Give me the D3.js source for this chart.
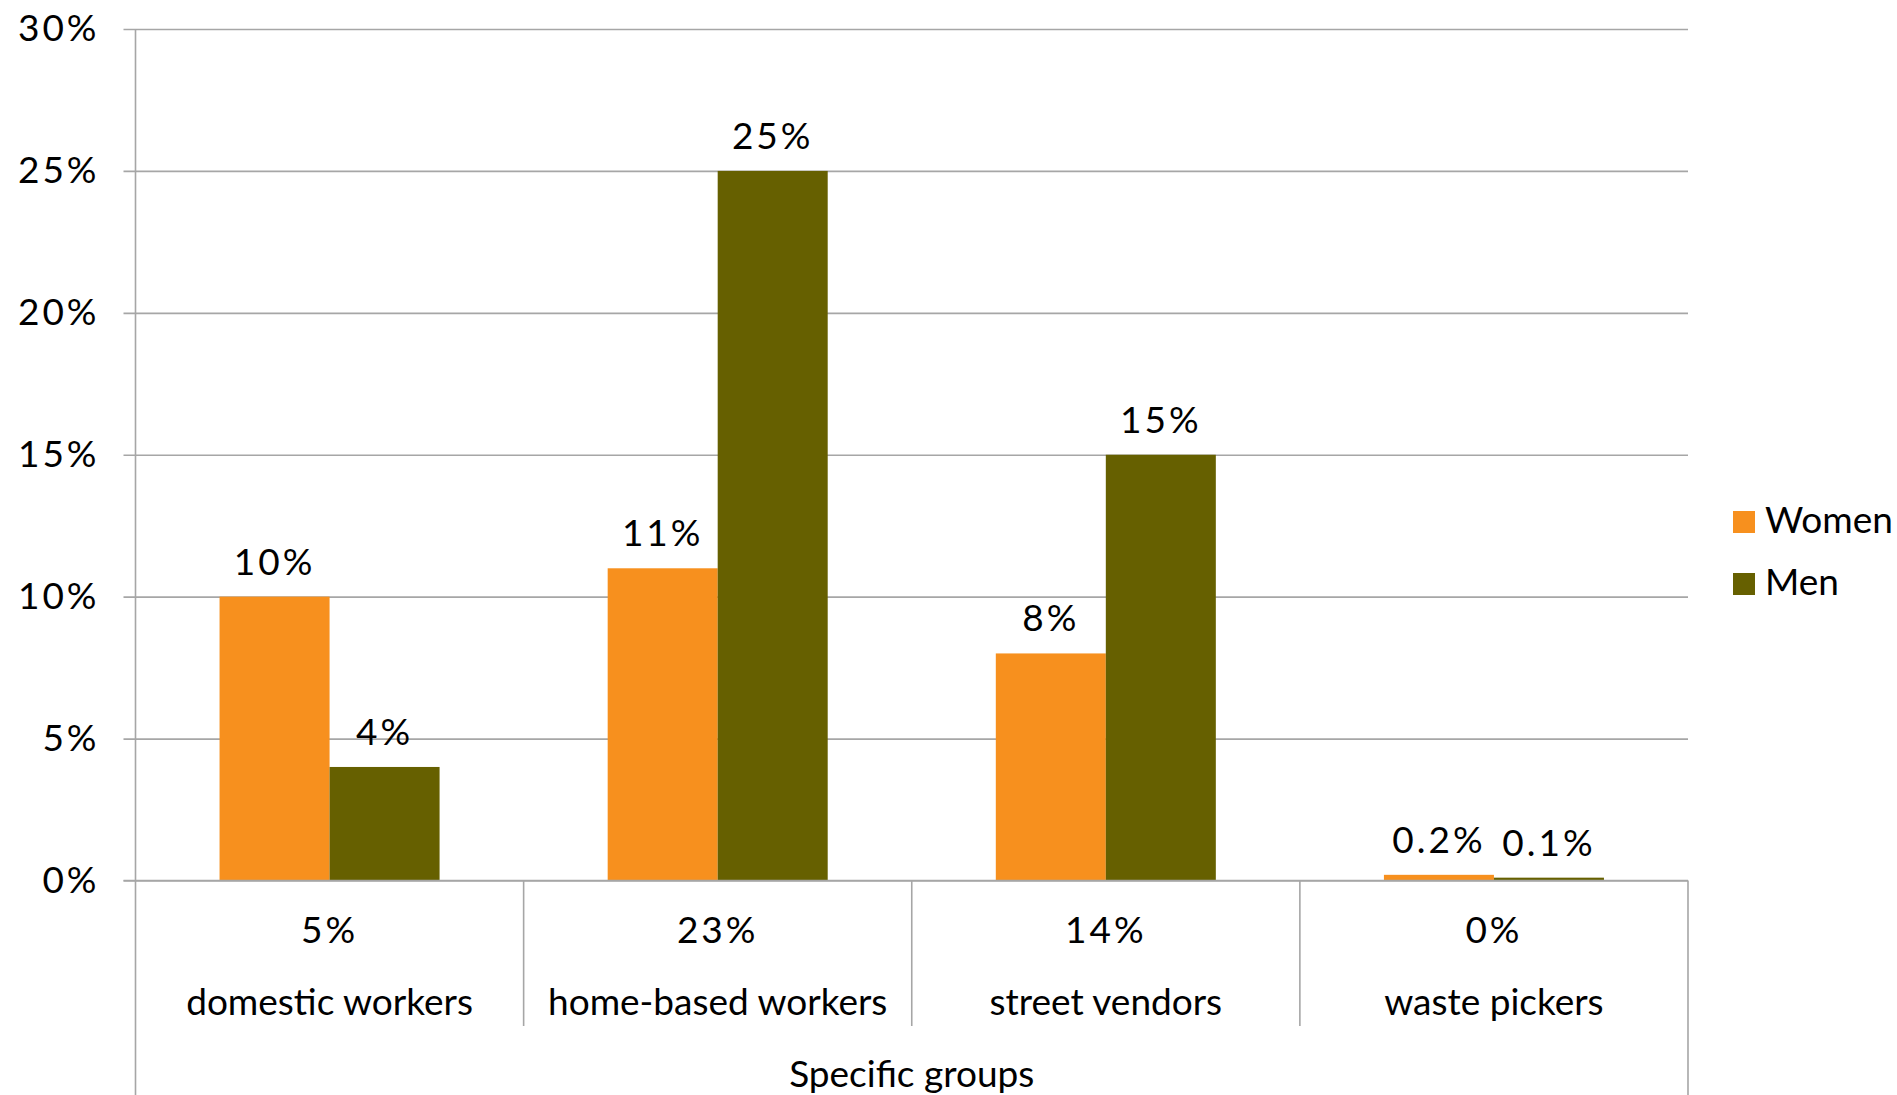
<!DOCTYPE html>
<html>
<head>
<meta charset="utf-8">
<script src="https://cdn.jsdelivr.net/npm/d3@7"></script>
<style>
  html, body { margin: 0; padding: 0; background: #fff; }
  svg { display: block; }
  text { font-family: Lato, "Open Sans", sans-serif; fill: #000; }
</style>
</head>
<body>
<svg id="chart" width="1897" height="1095"></svg>
<script>
const categories = ["domestic workers", "home-based workers", "street vendors", "waste pickers"];
const categoryTotals = ["5%", "23%", "14%", "0%"];
const seriesNames = ["Women", "Men"];
const women = [10, 11, 8, 0.2];
const men = [4, 25, 15, 0.1];
const womenLabels = ["10%", "11%", "8%", "0.2%"];
const menLabels = ["4%", "25%", "15%", "0.1%"];
const yTicks = [0, 5, 10, 15, 20, 25, 30];
const xTitle = "Specific groups";
const colors = ["#F7901E", "#666000"];

(function () {
const svg = d3.select("#chart");
const mLeft = 135.5, mRight = 1688, mTop = 29, mBottom = 880.5;
const gridColor = "#A6A6A6";
const fs = 37;
const numSpacing = 3;

const x0 = d3.scaleBand().domain(categories).range([mLeft, mRight]).paddingInner(0).paddingOuter(0);
const x1 = d3.scaleBand().domain(seriesNames).range([0, x0.bandwidth()]).paddingInner(0).paddingOuter(0.764);
const y = d3.scaleLinear().domain([0, 30]).range([mBottom, mTop]);
const color = d3.scaleOrdinal().domain(seriesNames).range(colors);

// Y axis with gridlines
const yAxis = d3.axisLeft(y).tickValues(yTicks).tickFormat(d => d + "%")
  .tickSizeInner(-(mRight - mLeft + 12)).tickSizeOuter(0).tickPadding(24);
const gy = svg.append("g").attr("transform", `translate(${mLeft - 12},0)`).call(yAxis);
gy.select(".domain").remove();
gy.selectAll(".tick line").attr("stroke", gridColor).attr("stroke-width", 1.6);
gy.selectAll(".tick text").attr("font-size", fs).attr("font-family", "Lato, sans-serif")
  .attr("fill", "#000").attr("letter-spacing", numSpacing);

// vertical axis line
svg.append("line").attr("x1", mLeft).attr("x2", mLeft).attr("y1", mTop).attr("y2", 1095)
  .attr("stroke", gridColor).attr("stroke-width", 1.6);
svg.append("line").attr("x1", mRight).attr("x2", mRight).attr("y1", mBottom).attr("y2", 1095)
  .attr("stroke", gridColor).attr("stroke-width", 1.6);
// category dividers
categories.slice(1).forEach(c => {
  svg.append("line").attr("x1", x0(c)).attr("x2", x0(c)).attr("y1", mBottom).attr("y2", 1026)
    .attr("stroke", gridColor).attr("stroke-width", 1.6);
});

// bars
const data = categories.map((c, i) => ({
  cat: c,
  vals: [
    { s: "Women", v: women[i], label: womenLabels[i] },
    { s: "Men", v: men[i], label: menLabels[i] }
  ]
}));
const groups = svg.append("g").selectAll("g").data(data).join("g")
  .attr("transform", d => `translate(${x0(d.cat)},0)`);
groups.selectAll("rect").data(d => d.vals).join("rect")
  .attr("x", d => x1(d.s)).attr("width", x1.bandwidth())
  .attr("y", d => y(d.v)).attr("height", d => y(0) - y(d.v))
  .attr("fill", d => color(d.s));
groups.selectAll("text.lbl").data(d => d.vals).join("text").attr("class", "lbl")
  .attr("x", d => x1(d.s) + x1.bandwidth() / 2)
  .attr("y", d => y(d.v) - 22)
  .attr("text-anchor", "middle").attr("font-size", fs).attr("letter-spacing", numSpacing)
  .text(d => d.label);

// redraw baseline on top
svg.append("line").attr("x1", mLeft - 12).attr("x2", mRight).attr("y1", mBottom).attr("y2", mBottom)
  .attr("stroke", gridColor).attr("stroke-width", 1.6);

// category labels
const xl = svg.append("g");
xl.selectAll("text.tot").data(categories).join("text").attr("class", "tot")
  .attr("x", c => x0(c) + x0.bandwidth() / 2).attr("y", 943)
  .attr("text-anchor", "middle").attr("font-size", fs).attr("letter-spacing", numSpacing)
  .text((c, i) => categoryTotals[i]);
xl.selectAll("text.cat").data(categories).join("text").attr("class", "cat")
  .attr("x", c => x0(c) + x0.bandwidth() / 2).attr("y", 1015)
  .attr("text-anchor", "middle").attr("font-size", fs)
  .text(c => c);
svg.append("text").attr("x", (mLeft + mRight) / 2).attr("y", 1087)
  .attr("text-anchor", "middle").attr("font-size", fs).text(xTitle);

// legend
const lg = svg.append("g").attr("transform", "translate(1733,511)");
const li = lg.selectAll("g").data(seriesNames).join("g")
  .attr("transform", (d, i) => `translate(0,${i * 62})`);
li.append("rect").attr("width", 22).attr("height", 22).attr("fill", d => color(d));
li.append("text").attr("x", 32).attr("y", 22).attr("font-size", fs).text(d => d);
})();
</script>
</body>
</html>
